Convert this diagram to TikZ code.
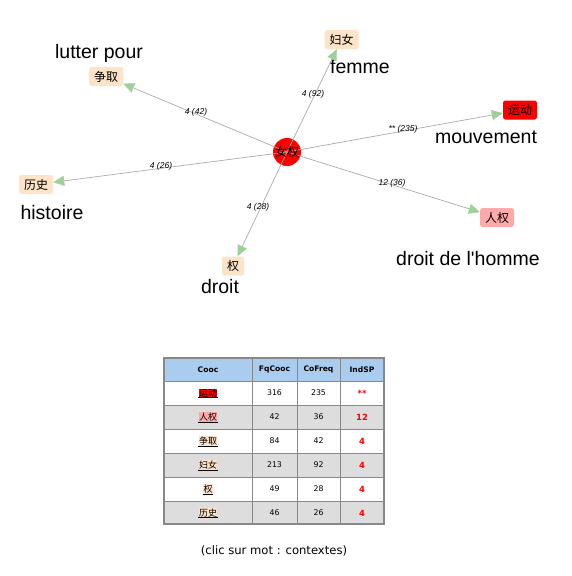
\documentclass[tikz,border=0pt]{standalone}
\usepackage{fontspec}
\setmainfont{Liberation Sans}
\newfontfamily\cjk{Noto Sans CJK SC}
\newfontfamily\dv{DejaVu Sans}
\usetikzlibrary{arrows.meta}
\definecolor{peach}{HTML}{FDE3C8}
\definecolor{pinkbox}{HTML}{FFAAAA}
\definecolor{tipgreen}{HTML}{9FD09A}
\definecolor{hdrblue}{HTML}{AACCEE}
\definecolor{rowgray}{HTML}{DDDDDD}
\definecolor{gridgray}{HTML}{888888}
\definecolor{edgegray}{HTML}{AAAAAA}
\newcommand{\hlword}[5]{%
  \node[fill=#3, inner sep=0.4pt, font=\cjk\fontsize{9}{9}\selectfont] (#1) at #2 {#4};
  \draw[line width=0.5pt, #5] (#1.south west) -- (#1.south east);}
\begin{document}
\begin{tikzpicture}[x=1pt, y=-1pt,
  wordbox/.style={rounded corners=2.5pt, minimum width=34pt, minimum height=19pt, inner sep=0pt,
    font=\cjk\fontsize{12}{12}\selectfont},
  biglabel/.style={font=\fontsize{19.5}{20}\selectfont, inner sep=0pt},
  edgelabel/.style={font=\itshape\fontsize{8.5}{9}\selectfont, inner sep=0pt},
  edge/.style={draw=edgegray, line width=0.7pt, -{Triangle[length=11pt,width=10pt,color=tipgreen]}},
  hdr/.style={font=\dv\bfseries\fontsize{7.6}{8}\selectfont, inner sep=0pt},
  num/.style={font=\dv\fontsize{7.8}{8}\selectfont, inner sep=0pt},
  ind/.style={font=\dv\bfseries\fontsize{8.5}{9}\selectfont, text=red, inner sep=0pt}]
\useasboundingbox (0,0) rectangle (572,576);
% central node
\node[circle, fill=red, minimum size=28pt, inner sep=0pt] (c) at (287,152) {};
% word nodes
\node[wordbox, fill=peach] (funv) at (341.5,39.5) {妇女};
\node[wordbox, fill=red] (yund) at (520,110) {运动};
\node[wordbox, fill=pinkbox] (renq) at (497,217.5) {人权};
\node[wordbox, fill=peach] (zhengq) at (106,76.5) {争取};
\node[wordbox, fill=peach] (lishi) at (36,184.5) {历史};
\node[wordbox, fill=peach, minimum width=22pt] (quan) at (233,266) {权};
% big labels
\node[biglabel] (lfemme) at (360,67) {femme};
\node[biglabel] (lmouv) at (486,137) {mouvement};
\node[biglabel] (ldh) at (468,259) {droit de l\textquotesingle homme};
\node[biglabel] (llutter) at (99,53) {lutter pour};
\node[biglabel] (lhist) at (52,213) {histoire};
\node[biglabel] (ldroit) at (220,287) {droit};
% edges
\draw[edge] (c.center) -- (funv);
\draw[edge] (c.center) -- (yund);
\draw[edge] (c.center) -- (renq);
\draw[edge] (c.center) -- (zhengq);
\draw[edge] (c.center) -- (lishi);
\draw[edge] (c.center) -- (quan);
\node[font=\cjk\fontsize{12}{12}\selectfont, inner sep=0pt] (ctext) at (c) {女权};
% edge labels
\node[edgelabel] (e1) at (313,94) {4 (92)};
\node[edgelabel] (e2) at (403,129) {** (235)};
\node[edgelabel] (e3) at (392,183) {12 (36)};
\node[edgelabel] (e4) at (196,112) {4 (42)};
\node[edgelabel] (e5) at (161,166) {4 (26)};
\node[edgelabel] (e6) at (258,207) {4 (28)};
% table
\fill[hdrblue] (164,358) rectangle (384,381);
\fill[rowgray] (164,405) rectangle (384,429);
\fill[rowgray] (164,453) rectangle (384,477);
\fill[rowgray] (164,501) rectangle (384,524);
\draw[gridgray, line width=1.2pt] (164,358) rectangle (384,524);
\foreach \yy in {381,405,429,453,477,501} \draw[gridgray, line width=1pt] (164,\yy) -- (384,\yy);
\foreach \xx in {252,297,340} \draw[gridgray, line width=1pt] (\xx,358) -- (\xx,524);
\node[hdr] (h1) at (208,369.5) {Cooc};
\node[hdr] (h2) at (274.5,369.5) {FqCooc};
\node[hdr] (h3) at (318.5,369.5) {CoFreq};
\node[hdr] (h4) at (362,369.5) {IndSP};
\hlword{t1}{(208,393)}{red}{运动}{black}
\hlword{t2}{(208,417)}{pinkbox}{人权}{black}
\hlword{t3}{(208,441)}{peach}{争取}{black}
\hlword{t4}{(208,465)}{peach}{妇女}{black}
\hlword{t5}{(208,489)}{peach}{权}{black}
\hlword{t6}{(208,513)}{peach}{历史}{black}
\node[num] (f1) at (274.5,393) {316};
\node[num] (f2) at (274.5,417) {42};
\node[num] (f3) at (274.5,441) {84};
\node[num] (f4) at (274.5,465) {213};
\node[num] (f5) at (274.5,489) {49};
\node[num] (f6) at (274.5,513) {46};
\node[num] (g1) at (318.5,393) {235};
\node[num] (g2) at (318.5,417) {36};
\node[num] (g3) at (318.5,441) {42};
\node[num] (g4) at (318.5,465) {92};
\node[num] (g5) at (318.5,489) {28};
\node[num] (g6) at (318.5,513) {26};
\node[ind] (i1) at (362,393) {**};
\node[ind] (i2) at (362,417) {12};
\node[ind] (i3) at (362,441) {4};
\node[ind] (i4) at (362,465) {4};
\node[ind] (i5) at (362,489) {4};
\node[ind] (i6) at (362,513) {4};
% caption
\node[font=\dv\fontsize{11.6}{12}\selectfont, inner sep=0pt] (cap) at (274,551) {(clic sur mot : contextes)};
\end{tikzpicture}
\end{document}
